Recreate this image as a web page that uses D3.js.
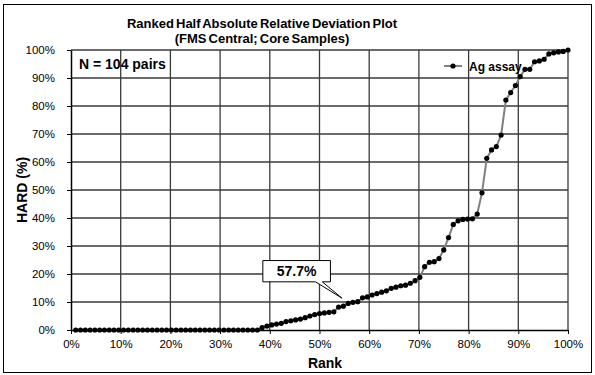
<!DOCTYPE html>
<html>
<head>
<meta charset="utf-8">
<script src="https://cdn.jsdelivr.net/npm/d3@7"></script>
<style>
	body { margin: 0; background: #fff; }
	text { font-family: "Liberation Sans", Arial, sans-serif; fill: #000; }
</style>
</head>
<body>
<svg id="chart" width="595" height="375"></svg>
<script>
// HARD values (%) in rank order, 104 pairs
const hardValues = [
	0, 0, 0, 0, 0, 0, 0, 0, 0, 0,
	0, 0, 0, 0, 0, 0, 0, 0, 0, 0,
	0, 0, 0, 0, 0, 0, 0, 0, 0, 0,
	0, 0, 0, 0, 0, 0, 0, 0, 0,
	0.9, 1.4, 1.8, 2.1, 2.4, 3.0, 3.3, 3.6, 3.9, 4.4,
	5.0, 5.5, 5.9, 6.1, 6.3, 6.5, 8.2, 8.5, 9.5, 9.9,
	10.1, 11.5, 11.8, 12.5, 13.0, 13.5, 14.0, 14.9, 15.3, 15.8,
	16.0, 16.7, 17.6, 18.8, 22.6, 24.2, 24.4, 25.5, 28.6, 33.0,
	37.7, 39.0, 39.5, 39.6, 39.7, 41.4, 49.0, 61.3, 64.3, 65.5,
	69.6, 82.1, 84.8, 87.3, 90.5, 93.1, 93.1, 95.8, 96.1, 96.7,
	98.6, 99.0, 99.3, 99.5, 100,
];
const seriesName = "Ag assay";
const xTicks = [0, 10, 20, 30, 40, 50, 60, 70, 80, 90, 100];
const yTicks = [0, 10, 20, 30, 40, 50, 60, 70, 80, 90, 100];
const titleLines = ["Ranked Half Absolute Relative Deviation Plot", "(FMS Central; Core Samples)"];
const calloutText = "57.7%";
// callout box (rank %, HARD %) and pointer tip
const calloutBox = { x0: 38.6, x1: 52.2, y0: 17.2, y1: 24.8 };
const calloutTip = { x: 54.5, y: 11.4 };

const n = hardValues.length;
const points = hardValues.map((v, i) => ({ rank: ((i + 1) / n) * 100, hard: v }));

const svg = d3.select("#chart");
const pLeft = 71, pRight = 568, pTop = 50, pBottom = 330;

const x = d3.scaleLinear().domain([0, 100]).range([pLeft, pRight]);
const y = d3.scaleLinear().domain([0, 100]).range([pBottom, pTop]);

// outer frame
svg.append("rect")
	.attr("x", 3.5).attr("y", 4.5)
	.attr("width", 588).attr("height", 368)
	.attr("fill", "#fff").attr("stroke", "#000").attr("stroke-width", 1);

// title
svg.append("g").selectAll("text")
	.data(titleLines)
	.join("text")
	.attr("x", 262)
	.attr("y", (d, i) => 28 + i * 15)
	.attr("text-anchor", "middle")
	.attr("font-size", 13)
	.attr("font-weight", "bold")
	.attr("word-spacing", -1.5)
	.text((d) => d);

// grid
const grid = svg.append("g").attr("stroke", "#3a3a3a").attr("stroke-width", 1.3);
grid.selectAll(".gx")
	.data(xTicks.slice(1))
	.join("line")
	.attr("x1", (d) => x(d)).attr("x2", (d) => x(d))
	.attr("y1", pTop).attr("y2", pBottom);
grid.selectAll(".gy")
	.data(yTicks.slice(1))
	.join("line")
	.attr("x1", pLeft).attr("x2", pRight)
	.attr("y1", (d) => y(d)).attr("y2", (d) => y(d));

// axes
const fmt = (d) => d + "%";
const yAxis = svg.append("g")
	.attr("transform", `translate(${pLeft},0)`)
	.call(d3.axisLeft(y).tickValues(yTicks).tickFormat(fmt).tickSizeInner(4).tickSizeOuter(0).tickPadding(12));
const xAxis = svg.append("g")
	.attr("transform", `translate(0,${pBottom})`)
	.call(d3.axisBottom(x).tickValues(xTicks).tickFormat(fmt).tickSizeInner(4).tickSizeOuter(0).tickPadding(6));
[yAxis, xAxis].forEach((a) => {
	a.selectAll("text").attr("font-size", 11.5).attr("font-family", null);
	a.selectAll("line").attr("stroke", "#000");
	a.select(".domain").attr("stroke", "#000").attr("stroke-width", 1.5);
});

svg.append("text")
	.attr("transform", `translate(27,${(pTop + pBottom) / 2}) rotate(-90)`)
	.attr("text-anchor", "middle")
	.attr("font-size", 14)
	.attr("font-weight", "bold")
	.text("HARD (%)");
svg.append("text")
	.attr("x", 325).attr("y", 368)
	.attr("text-anchor", "middle")
	.attr("font-size", 14)
	.attr("font-weight", "bold")
	.text("Rank");

// series
const line = d3.line()
	.x((d) => x(d.rank))
	.y((d) => y(d.hard));
svg.append("path")
	.datum(points)
	.attr("fill", "none")
	.attr("stroke", "#808080")
	.attr("stroke-width", 2)
	.attr("d", line);
svg.append("g").selectAll("circle")
	.data(points)
	.join("circle")
	.attr("cx", (d) => x(d.rank))
	.attr("cy", (d) => y(d.hard))
	.attr("r", 2.6)
	.attr("fill", "#000");

// legend
const lg = svg.append("g").attr("transform", "translate(444,66)");
lg.append("line").attr("x1", 0).attr("x2", 18).attr("stroke", "#808080").attr("stroke-width", 2);
lg.append("circle").attr("cx", 9).attr("r", 2.6).attr("fill", "#000");
lg.append("text").attr("x", 25).attr("y", 4.5)
	.attr("font-size", 12).attr("font-weight", "bold").text(seriesName);

// N label
svg.append("text")
	.attr("x", 79).attr("y", 69)
	.attr("font-size", 14).attr("font-weight", "bold")
	.text(`N = ${n} pairs`);

// callout
const bx0 = x(calloutBox.x0), bx1 = x(calloutBox.x1);
const by0 = y(calloutBox.y1), by1 = y(calloutBox.y0);
const wedgeA = bx0 + (bx1 - bx0) * 0.78, wedgeB = bx0 + (bx1 - bx0) * 0.88;
const calloutPath = d3.path();
calloutPath.moveTo(bx0, by0);
calloutPath.lineTo(bx1, by0);
calloutPath.lineTo(bx1, by1);
calloutPath.lineTo(wedgeB, by1);
calloutPath.lineTo(x(calloutTip.x), y(calloutTip.y));
calloutPath.lineTo(wedgeA, by1);
calloutPath.lineTo(bx0, by1);
calloutPath.closePath();
svg.append("path")
	.attr("d", calloutPath.toString())
	.attr("fill", "#fff")
	.attr("stroke", "#000")
	.attr("stroke-width", 1);
svg.append("text")
	.attr("x", (bx0 + bx1) / 2).attr("y", (by0 + by1) / 2 + 5)
	.attr("text-anchor", "middle")
	.attr("font-size", 14).attr("font-weight", "bold")
	.text(calloutText);
</script>
</body>
</html>
